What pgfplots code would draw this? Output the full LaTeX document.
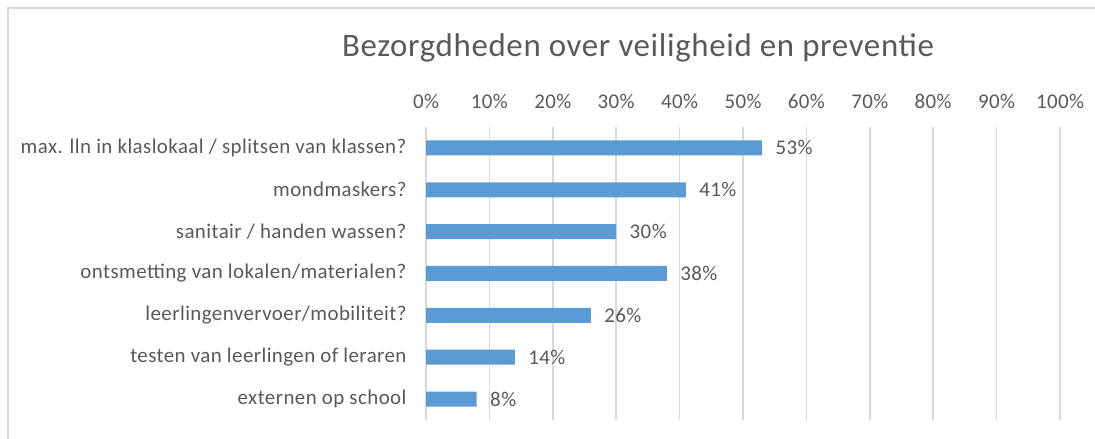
\documentclass[border=0pt]{standalone}
\usepackage{fontspec}
\setmainfont[LetterSpace=2]{Carlito}
\usepackage{pgfplots}
\pgfplotsset{compat=1.18}
\definecolor{barblue}{HTML}{5B9BD5}
\definecolor{txt}{HTML}{595959}
\definecolor{gridc}{HTML}{D9D9D9}
\begin{document}
\begin{tikzpicture}[x=1bp,y=1bp]
\useasboundingbox (0,0) rectangle (1095,439);
\draw[gridc, line width=2.2bp] (8,0) -- (8,431) -- (1095,431);
\node[text=txt, font=\fontsize{33}{38}\selectfont] at (638,391) {Bezorgdheden over veiligheid en preventie};
\begin{axis}[
  at={(426bp,19bp)}, anchor=south west,
  width=634bp, height=293bp, scale only axis,
  xbar, bar width=15bp,
  xmin=0, xmax=100,
  ymin=-0.5, ymax=6.5, y dir=reverse,
  ytick={0,...,6},
  yticklabels={max. lln in klaslokaal / splitsen van klassen?, mondmaskers?, sanitair / handen wassen?, ontsmetting van lokalen/materialen?, leerlingenvervoer/mobiliteit?, testen van leerlingen of leraren, externen op school},
  xtick={0,10,...,100},
  xticklabel={\pgfmathprintnumber{\tick}\%},
  xticklabel pos=upper,
  /pgf/number format/assume math mode=true,
  xticklabel style={text=txt, font=\fontsize{21}{24}\selectfont, yshift=15bp},
  yticklabel style={text=txt, font=\fontsize{21}{24}\selectfont, xshift=-16bp},
  major tick length=0pt,
  axis line style={draw=none},
  xmajorgrids, grid style={gridc, line width=1.5bp},
  nodes near coords={\pgfmathprintnumber{\pgfplotspointmeta}\%},
  nodes near coords style={text=txt, font=\fontsize{21}{24}\selectfont, anchor=west, xshift=10bp},
  point meta=x,
]
\addplot[fill=barblue, draw=none] coordinates {(53,0) (41,1) (30,2) (38,3) (26,4) (14,5) (8,6)};
\end{axis}
\end{tikzpicture}
\end{document}
